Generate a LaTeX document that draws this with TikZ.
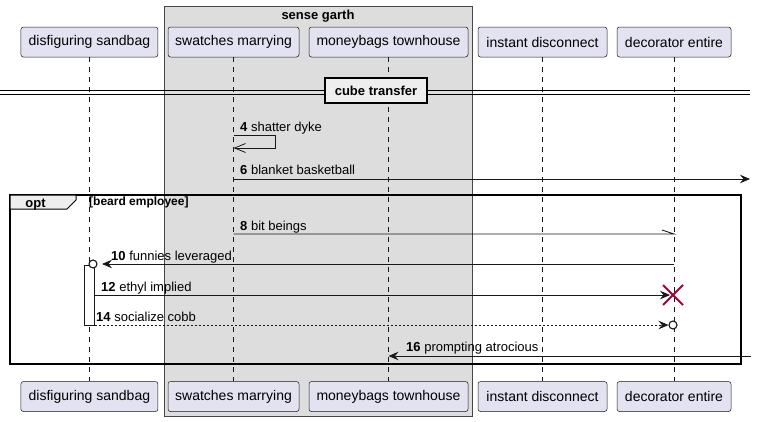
\documentclass[tikz,border=0pt]{standalone}
\usepackage{fontspec}
\setmainfont{Liberation Sans}
\usetikzlibrary{arrows.meta}
\definecolor{partfill}{HTML}{E2E2F0}
\definecolor{linec}{HTML}{181818}
\definecolor{boxfill}{HTML}{DDDDDD}
\definecolor{grpfill}{HTML}{EEEEEE}
\definecolor{xred}{HTML}{A80036}
\begin{document}
\begin{tikzpicture}[x=1pt,y=-1pt,
 part/.style={draw=linec, fill=partfill, rounded corners=2.5pt, line width=0.5pt, minimum height=30pt, inner sep=0pt, font=\fontsize{14}{16}\selectfont},
 life/.style={draw=linec, dash pattern=on 5pt off 5pt, line width=0.5pt},
 msg/.style={draw=linec, line width=0.8pt},
 lbl/.style={anchor=base west, inner sep=0pt, font=\fontsize{13}{15}\selectfont},
 tip/.style={-{Stealth[length=10pt,width=8.5pt,inset=3.5pt]}},
 endcirc/.style={draw=linec, fill=white, line width=1.1pt},
]
\useasboundingbox (0,0) rectangle (757,421);
% box
\draw[draw=linec!80, fill=boxfill, line width=0.5pt] (164,6) rectangle (472,416);
\node[anchor=base, inner sep=0pt, font=\fontsize{13}{15}\selectfont\bfseries] (boxtitle) at (318,19) {sense garth};
% participants
\node[part, minimum width=137pt] (p1t) at (89.4,42) {disfiguring sandbag};
\node[part, minimum width=131pt] (p2t) at (233.5,42) {swatches marrying};
\node[part, minimum width=159pt] (p3t) at (388.5,42) {moneybags townhouse};
\node[part, minimum width=129pt] (p4t) at (542.5,42) {instant disconnect};
\node[part, minimum width=114pt] (p5t) at (674,42) {decorator entire};
\node[part, minimum width=137pt] (p1b) at (89.4,396.5) {disfiguring sandbag};
\node[part, minimum width=131pt] (p2b) at (233.5,396.5) {swatches marrying};
\node[part, minimum width=159pt] (p3b) at (388.5,396.5) {moneybags townhouse};
\node[part, minimum width=129pt] (p4b) at (542.5,396.5) {instant disconnect};
\node[part, minimum width=114pt] (p5b) at (674,396.5) {decorator entire};
% lifelines
\foreach \i in {1,...,5} {\draw[life] (p\i t.south) -- (p\i b.north);}
% divider
\coordinate (dl) at (0,92);
\coordinate (dr) at (750,92);
\node[draw=black, line width=1.5pt, fill=grpfill, minimum width=102pt, minimum height=25pt, inner sep=0pt, font=\fontsize{13}{15}\selectfont\bfseries] (div) at (376,90.5) {cube transfer};
\draw[black, line width=0.9pt] ([yshift=-2pt]dl) -- ([yshift=-2pt]div.west |- dl) ([yshift=2pt]dl) -- ([yshift=2pt]div.west |- dl);
\draw[black, line width=0.9pt] ([yshift=-2pt]div.east |- dr) -- ([yshift=-2pt]dr) ([yshift=2pt]div.east |- dr) -- ([yshift=2pt]dr);
% opt frame
\draw[black, line width=1.5pt] (10,195) rectangle (741,364);
\draw[black, fill=grpfill, line width=1pt] (10,195) -- (76,195) -- (76,200) -- (67,209) -- (10,209) -- cycle;
\node[anchor=base, inner sep=0pt, font=\fontsize{13}{15}\selectfont\bfseries] (optlbl) at (35.5,207) {opt};
\node[anchor=base west, inner sep=0pt, font=\fontsize{12}{14}\selectfont\bfseries] (guard) at (89,205.5) {[beard employee]};
% message 4 (self)
\coordinate (m4a) at (p2t |- 0,135);
\coordinate (m4b) at (p2t |- 0,148);
\draw[msg, -{Straight Barb[length=11pt,width=9pt]}] (m4a) -- ++(42,0) -- ++(0,13) -- (m4b);
\node[lbl] (l4) at (240,131) {{\bfseries 4} shatter dyke};
% message 6
\coordinate (m6a) at (p2t |- 0,179);
\coordinate (m6b) at (750,179);
\draw[msg, tip] (m6a) -- (m6b);
\node[lbl] (l6) at (240,174) {{\bfseries 6} blanket basketball};
% message 8
\coordinate (m8a) at (p2t |- 0,234);
\coordinate (m8b) at (p5t |- 0,234);
\draw[msg] (m8a) -- (m8b) -- ++(-12,-4);
\node[lbl] (l8) at (240,230) {{\bfseries 8} bit beings};
% activation
\draw[draw=linec, fill=white, line width=0.8pt] (84,265) rectangle (94.5,325);
% message 10
\coordinate (m10a) at (p5t |- 0,264);
\coordinate (m10b) at (102,264);
\draw[msg, tip] (m10a) -- (m10b);
\draw[endcirc] (93,264) circle (4pt);
\node[lbl] (l10) at (111,260) {{\bfseries 10} funnies leveraged};
% message 12
\coordinate (m12a) at (94.5,295);
\coordinate (m12b) at (670,295);
\draw[msg, tip] (m12a) -- (m12b);
\draw[xred, line width=2pt] (663,285) -- (683,305) (663,305) -- (683,285);
\node[lbl] (l12) at (101,291) {{\bfseries 12} ethyl implied};
% message 14
\coordinate (m14a) at (94.5,325);
\coordinate (m14b) at (668.5,325);
\draw[msg, dash pattern=on 2pt off 2pt, tip] (m14a) -- (m14b);
\draw[endcirc] (673,325) circle (4pt);
\node[lbl] (l14) at (96,321) {{\bfseries 14} socialize cobb};
% message 16
\coordinate (m16a) at (751,356);
\coordinate (m16b) at (p3t |- 0,356);
\draw[msg, tip] (m16a) -- (m16b);
\node[lbl] (l16) at (406,351) {{\bfseries 16} prompting atrocious};
\end{tikzpicture}
\end{document}
